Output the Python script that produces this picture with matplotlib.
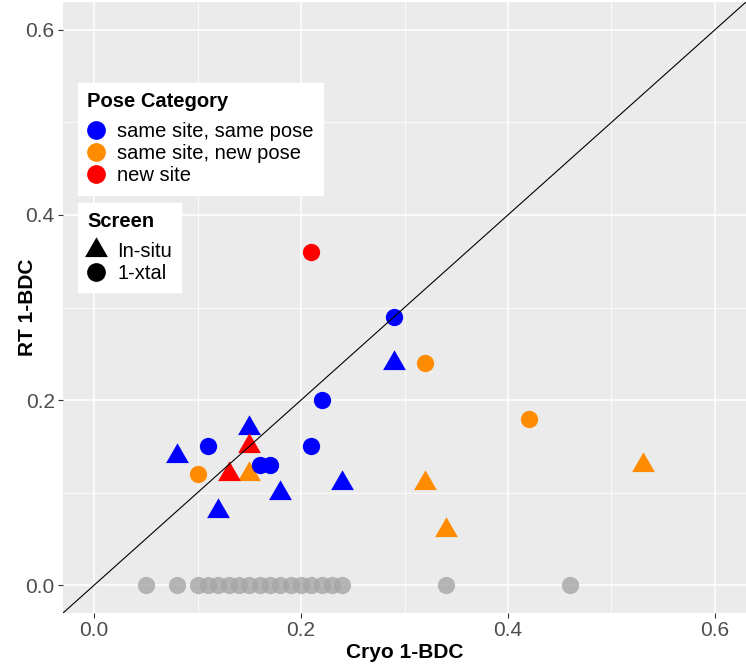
import matplotlib
matplotlib.use('Agg')
import matplotlib.pyplot as plt
from matplotlib.lines import Line2D
from matplotlib.ticker import MultipleLocator

plt.rcParams['font.family'] = ['Liberation Sans', 'DejaVu Sans']

# points with a pose category: (cryo, rt)
same_pose_xtal_x = [0.29, 0.22, 0.11, 0.21, 0.16, 0.17]
same_pose_xtal_y = [0.29, 0.20, 0.15, 0.15, 0.13, 0.13]
same_pose_insitu_x = [0.29, 0.15, 0.08, 0.12, 0.18, 0.24]
same_pose_insitu_y = [0.24, 0.17, 0.14, 0.08, 0.10, 0.11]
new_pose_xtal_x = [0.32, 0.42, 0.10]
new_pose_xtal_y = [0.24, 0.18, 0.12]
new_pose_insitu_x = [0.15, 0.32, 0.34, 0.53]
new_pose_insitu_y = [0.12, 0.11, 0.06, 0.13]
new_site_xtal_x = [0.21]
new_site_xtal_y = [0.36]
new_site_insitu_x = [0.15, 0.13]
new_site_insitu_y = [0.15, 0.12]

# ligands not seen at RT
unseen_x = [0.05, 0.08, 0.10, 0.11, 0.12, 0.13, 0.14, 0.15, 0.16, 0.17,
            0.18, 0.19, 0.20, 0.21, 0.22, 0.23, 0.24, 0.34, 0.46]
unseen_y = [0.0] * len(unseen_x)

pose_labels = ['same site, same pose', 'same site, new pose', 'new site']
pose_colors = ['#0000FF', '#FF8C00', '#FF0000']
screen_labels = ['In-situ', '1-xtal']

# equilateral triangle centred on its centroid (like R pch 17)
tri = [(-1.0, -0.577), (1.0, -0.577), (0.0, 1.155)]
circ_s = 155
tri_s = 360

fig = plt.figure(figsize=(7.46, 6.66), dpi=100)
ax = fig.add_axes([63 / 746, 53 / 666, 683 / 746, 611 / 666])
ax.set_facecolor('#EBEBEB')
for sp in ax.spines.values():
    sp.set_visible(False)

ax.scatter(unseen_x, unseen_y, s=circ_s, marker='o', color='#A6A6A6', alpha=0.8, lw=0, zorder=2)
ax.scatter(new_pose_xtal_x, new_pose_xtal_y, s=circ_s, marker='o', color=pose_colors[1], lw=0, zorder=3)
ax.scatter(new_pose_insitu_x, new_pose_insitu_y, s=tri_s, marker=tri, color=pose_colors[1], lw=0, zorder=3)
ax.scatter(same_pose_xtal_x, same_pose_xtal_y, s=circ_s, marker='o', color=pose_colors[0], lw=0, zorder=4)
ax.scatter(same_pose_insitu_x, same_pose_insitu_y, s=tri_s, marker=tri, color=pose_colors[0], lw=0, zorder=4)
ax.scatter(new_site_xtal_x, new_site_xtal_y, s=circ_s, marker='o', color=pose_colors[2], lw=0, zorder=5)
ax.scatter(new_site_insitu_x, new_site_insitu_y, s=tri_s, marker=tri, color=pose_colors[2], lw=0, zorder=5)

ax.axline((0, 0), slope=1, color='black', lw=0.8, zorder=6)

ax.set_xlim(-0.03, 0.63)
ax.set_ylim(-0.03, 0.63)
ax.xaxis.set_major_locator(MultipleLocator(0.2))
ax.yaxis.set_major_locator(MultipleLocator(0.2))
ax.xaxis.set_minor_locator(MultipleLocator(0.1))
ax.yaxis.set_minor_locator(MultipleLocator(0.1))
ax.xaxis.set_major_formatter(lambda v, p: f'{v:.1f}')
ax.yaxis.set_major_formatter(lambda v, p: f'{v:.1f}')
ax.grid(which='major', color='white', lw=1.1)
ax.grid(which='minor', color='white', lw=0.55)
ax.set_axisbelow(True)
ax.tick_params(which='major', length=3.5, width=0.8, color='#333333',
               labelsize=15, labelcolor='#4D4D4D', pad=2.5)
ax.tick_params(which='minor', length=0)

ax.set_xlabel('Cryo 1-BDC', fontsize=15, fontweight='bold', labelpad=2)
ax.set_ylabel('RT 1-BDC', fontsize=15, fontweight='bold')
ax.yaxis.set_label_coords(-0.038, 0.5)

pose_handles = [Line2D([], [], ls='', marker='o', markersize=13.5, markerfacecolor=c,
                       markeredgewidth=0) for c in pose_colors]
screen_handles = [Line2D([], [], ls='', marker=tri, markersize=19, color='black', markeredgewidth=0),
                  Line2D([], [], ls='', marker='o', markersize=13.5, color='black', markeredgewidth=0)]

leg_kw = dict(loc='upper left', borderaxespad=0, frameon=True, fancybox=False,
              facecolor='white', edgecolor='white', framealpha=1, fontsize=14.5,
              title_fontproperties={'weight': 'bold', 'size': 14.5}, alignment='left',
              handlelength=0.9, handletextpad=0.6, labelspacing=0.15, borderpad=0.45)
leg1 = ax.legend(pose_handles, pose_labels, title='Pose Category',
                 bbox_to_anchor=(0.022, 0.867), **leg_kw)
leg1._legend_box.sep = 8
ax.add_artist(leg1)
leg2 = ax.legend(screen_handles, screen_labels, title='Screen',
                 bbox_to_anchor=(0.022, 0.671), **leg_kw)
leg2._legend_box.sep = 8

fig.savefig('out.png', dpi=100)
